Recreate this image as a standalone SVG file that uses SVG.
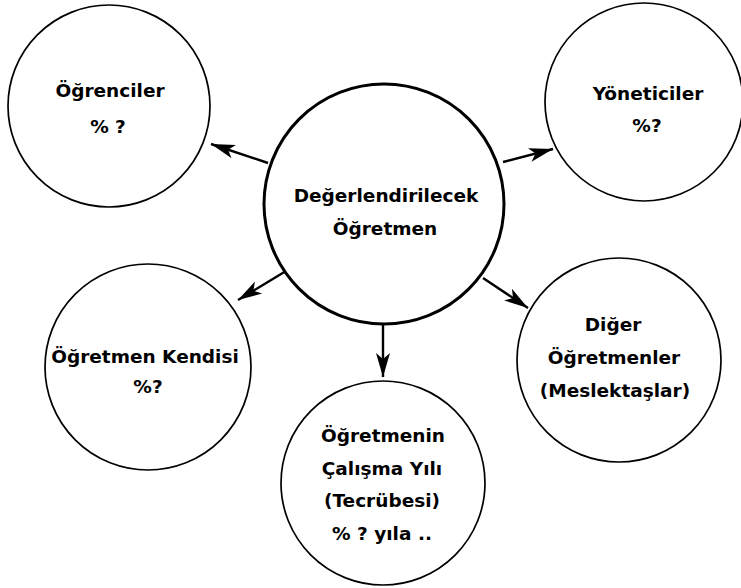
<svg xmlns="http://www.w3.org/2000/svg" width="741" height="588" viewBox="0 0 741 588">
  <defs>
    <marker id="arr" markerUnits="userSpaceOnUse" markerWidth="26" markerHeight="16" refX="24" refY="8" orient="auto">
      <path d="M0,1 L24,8 L0,15 L6,8 Z" fill="#000"/>
    </marker>
    <style>
      .c { fill: #fff; stroke: #000; stroke-width: 1.7; }
      .main { fill: #fff; stroke: #000; stroke-width: 3; }
      .t { font-family: "DejaVu Sans", "Liberation Sans", sans-serif; font-weight: bold; font-size: 18.5px; fill: #000; text-anchor: middle; }
      .a { stroke: #000; stroke-width: 2.4; fill: none; marker-end: url(#arr); }
    </style>
  </defs>
  <rect width="741" height="588" fill="#fff"/>
  <g id="connectors">
    <line class="a" x1="268" y1="163" x2="211" y2="144"/>
    <line class="a" x1="503" y1="162" x2="553" y2="149"/>
    <line class="a" x1="286" y1="271" x2="238" y2="300"/>
    <line class="a" x1="383" y1="323" x2="383" y2="377"/>
    <line class="a" x1="483" y1="278" x2="528" y2="308"/>
  </g>
  <g id="ogrenciler">
    <circle class="c" cx="109" cy="106" r="101"/>
    <text class="t" x="110" y="97">Öğrenciler</text>
    <text class="t" x="108" y="133">% ?</text>
  </g>
  <g id="yoneticiler">
    <circle class="c" cx="644" cy="102" r="99"/>
    <text class="t" x="648" y="100">Yöneticiler</text>
    <text class="t" x="647" y="132">%?</text>
  </g>
  <g id="merkez">
    <circle class="main" cx="384" cy="204" r="120"/>
    <text class="t" x="386" y="202">Değerlendirilecek</text>
    <text class="t" x="385" y="235">Öğretmen</text>
  </g>
  <g id="kendisi">
    <circle class="c" cx="148" cy="367" r="103"/>
    <text class="t" x="145" y="363">Öğretmen Kendisi</text>
    <text class="t" x="148" y="393">%?</text>
  </g>
  <g id="calisma">
    <circle class="c" cx="383" cy="483" r="102"/>
    <text class="t" x="383" y="442">Öğretmenin</text>
    <text class="t" x="382" y="475">Çalışma Yılı</text>
    <text class="t" x="382" y="507">(Tecrübesi)</text>
    <text class="t" x="382" y="540">% ? yıla ..</text>
  </g>
  <g id="diger">
    <circle class="c" cx="619" cy="360" r="102"/>
    <text class="t" x="613" y="331">Diğer</text>
    <text class="t" x="614" y="364">Öğretmenler</text>
    <text class="t" x="615" y="397">(Meslektaşlar)</text>
  </g>
</svg>
